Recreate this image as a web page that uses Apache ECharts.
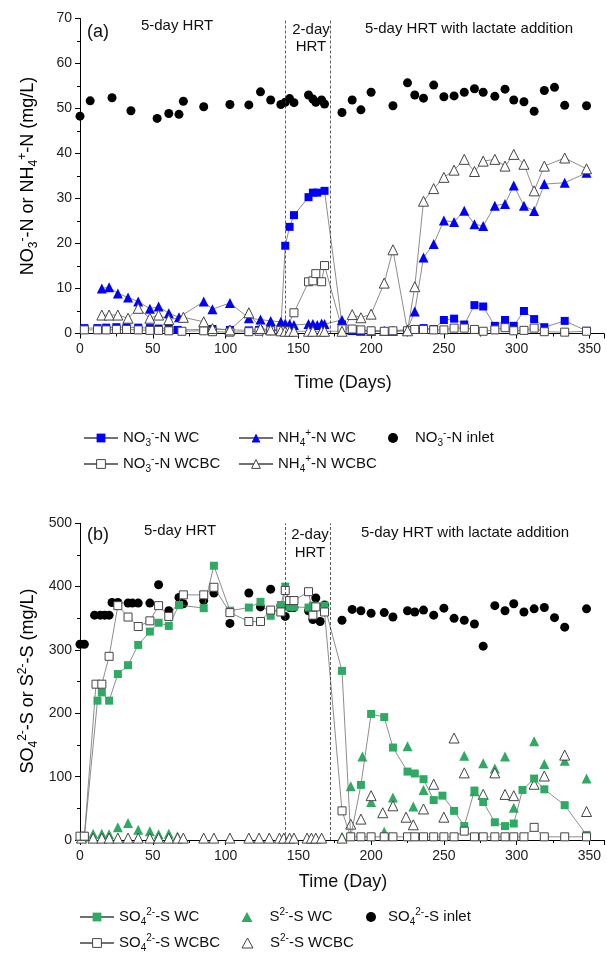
<!DOCTYPE html>
<html><head><meta charset="utf-8">
<script src="https://cdn.jsdelivr.net/npm/echarts@6/dist/echarts.min.js"></script>
<style>html,body{margin:0;padding:0;background:#fff}#c{width:607px;height:957px}</style>
</head><body><div id="c"></div>
<script>
// ---------- DATA ----------
const phaseBreaks = [141, 172];
// Panel (a)
const no3InletDays = [0,7,22,35,53,61,68,71,85,103,116,124,131,138,141,144,147,157,160,162,166,168,180,187,193,200,215,225,230,236,243,250,257,264,271,277,285,292,298,305,312,319,326,333,348];
const no3InletVals = [48.3,51.7,52.4,49.5,47.8,48.9,48.7,51.6,50.4,50.9,50.8,53.7,51.9,50.9,51.4,52.2,51.3,53.0,52.1,51.4,51.9,51.0,49.1,51.9,49.7,53.6,50.6,55.7,53.0,52.3,55.2,52.6,52.8,53.6,54.4,53.6,52.7,54.3,51.9,51.5,49.4,54.0,54.7,50.7,50.6];
const no3WcDays = [3,12,18,25,32,40,48,54,61,67,85,91,103,116,123,131,138,141,144,147,157,160,163,168,180,187,193,200,209,215,225,230,236,243,250,257,264,271,277,285,292,298,305,312,319,333,348];
const no3WcVals = [1.2,1.2,1.3,1.4,1.4,1.3,1.2,1.1,1.0,0.8,0.9,1.0,0.8,0.7,0.8,0.8,1.0,19.5,23.7,26.3,30.3,31.3,31.3,31.7,2.0,0.8,0.6,0.5,0.5,0.5,0.6,1.0,1.2,1.0,3.0,3.3,2.0,6.3,6.0,1.7,3.0,1.7,5.0,3.2,1.4,2.8,0.6];
const no3WcbcDays = [3,12,18,25,32,40,48,54,61,70,85,91,103,116,123,131,138,141,147,157,160,162,166,168,180,187,193,200,209,215,225,230,236,243,250,257,264,271,277,285,292,298,305,312,319,333,348];
const no3WcbcVals = [0.8,0.8,0.8,0.9,0.9,0.8,0.7,0.7,0.6,0.5,0.6,0.4,0.3,0.4,0.5,0.6,0.7,0.6,4.6,11.5,11.7,13.3,11.5,15.1,1.0,1.0,0.8,0.6,0.5,0.6,0.6,0.9,0.9,0.8,0.8,1.2,1.2,0.9,0.5,0.8,1.3,0.6,0.7,1.2,0.4,0.3,0.5];
const nh4WcDays = [15,20,26,33,40,48,54,61,68,85,91,103,116,124,131,138,141,144,147,157,160,163,166,168,180,187,193,200,209,215,225,230,236,243,250,257,264,271,277,285,292,298,305,312,319,333,348];
const nh4WcVals = [10.0,10.3,8.9,8.0,7.1,5.5,6.0,4.5,3.6,7.1,5.4,6.8,3.4,3.1,2.8,2.6,2.2,2.1,1.9,2.1,2.1,1.9,2.2,2.1,3.0,0.8,0.6,0.6,0.6,0.6,0.9,4.9,16.9,19.9,25.1,24.8,27.3,24.3,23.9,28.4,28.8,32.9,28.4,27.2,33.2,33.5,35.7];
const nh4WcbcDays = [15,20,26,33,40,48,54,61,71,85,91,103,116,124,131,138,141,144,147,157,160,166,168,180,187,193,200,209,215,225,230,236,243,250,257,264,271,277,285,292,298,305,312,319,333,348];
const nh4WcbcVals = [4.1,4.1,4.1,3.4,5.6,3.4,4.1,3.1,3.6,2.6,1.1,0.8,4.6,1.1,0.8,0.6,0.5,0.5,0.5,0.5,0.5,0.5,0.5,0.5,4.2,3.5,4.3,11.2,18.6,0.6,10.4,29.4,32.2,34.7,36.3,38.7,36.0,38.3,38.7,37.2,39.8,37.6,31.7,37.2,39.0,36.6];
// Panel (b)
const so4InletDays = [0,3,10,14,17,20,22,26,33,36,40,48,54,61,68,71,85,92,103,116,124,131,138,141,144,147,157,160,162,165,168,180,187,193,200,209,215,225,230,236,243,250,257,264,271,277,285,292,298,305,312,319,326,333,348];
const so4InletVals = [309,309,355,355,355,355,375,375,374,374,374,374,403,362,383,373,378,390,342,390,368,396,370,353,367,367,362,348,382,345,371,347,364,362,358,359,352,362,360,363,355,366,350,347,341,306,370,362,373,360,365,367,351,336,365];
const so4WcDays = [0,3,12,15,20,26,33,40,48,54,61,68,85,92,103,116,124,131,138,141,144,147,157,160,168,180,186,193,200,209,215,225,230,236,243,249,257,264,271,277,285,292,298,304,312,319,333,348];
const so4WcVals = [5,5,220,233,220,262,276,308,329,343,338,371,366,433,362,367,376,354,371,400,368,368,367,370,370,267,5,87,199,194,146,108,105,96,63,70,46,22,78,60,28,22,26,79,97,80,55,8];
const so4WcbcDays = [0,3,11,15,20,26,33,40,48,54,61,71,85,92,103,116,124,131,138,141,144,147,157,160,162,168,180,186,193,200,209,215,225,230,236,243,250,257,264,271,277,285,292,298,305,312,319,333,348];
const so4WcbcVals = [6,6,246,246,290,370,352,337,346,370,353,387,387,399,359,345,345,363,360,394,378,378,392,355,368,360,46,5,5,5,5,5,5,5,5,5,5,5,14,5,5,5,5,5,5,20,5,5,5];
const s2WcDays = [2,9,15,20,26,33,40,48,54,61,67,180,186,194,200,209,215,225,229,236,264,271,277,285,292,298,312,319,333,348];
const s2WcVals = [5,10,10,9,20,27,16,14,9,10,6,5,85,132,60,13,67,148,53,79,133,77,121,113,132,51,156,120,125,97];
const s2WcbcDays = [1,9,15,20,26,33,40,48,54,61,67,71,85,92,103,116,123,130,137,140,144,147,156,159,162,166,180,186,193,200,208,215,224,229,236,243,250,257,264,277,285,292,298,312,319,333,348];
const s2WcbcVals = [3,3,3,3,3,3,3,3,3,3,3,3,3,3,3,3,3,3,3,3,3,3,3,3,3,3,3,25,33,70,43,54,36,24,49,88,36,161,106,72,106,72,70,88,101,134,45];
// axis ticks
const xTickStep = 50, xMax = 360;
const yTopMax = 70, yTopStep = 10;
const yBotMax = 500, yBotStep = 100;

// ---------- HELPERS ----------
const FONT = '"Liberation Sans", Arial, sans-serif';
const zip = (d, v) => d.map((x, i) => [x, v[i]]);
function rich(fs) {
  const s = Math.round(fs * 0.65);
  return {
    t: {fontSize: fs, lineHeight: fs + 5, fontFamily: FONT, color: '#111'},
    b: {fontSize: s, lineHeight: s, verticalAlign: 'bottom', fontFamily: FONT, color: '#111'},
    p: {fontSize: s, lineHeight: s, verticalAlign: 'top', fontFamily: FONT, color: '#111'}
  };
}
const legendLabels = {
  'NO3 WC': '{t|NO}{b|3}{p|-}{t|-N WC}',
  'NH4 WC': '{t|NH}{b|4}{p|+}{t|-N WC}',
  'NO3 inlet': '{t|NO}{b|3}{p|-}{t|-N inlet}',
  'NO3 WCBC': '{t|NO}{b|3}{p|-}{t|-N WCBC}',
  'NH4 WCBC': '{t|NH}{b|4}{p|+}{t|-N WCBC}',
  'SO4 WC': '{t|SO}{b|4}{p|2-}{t|-S WC}',
  'S2 WC': '{t|S}{p|2-}{t|-S WC}',
  'SO4 inlet': '{t|SO}{b|4}{p|2-}{t|-S inlet}',
  'SO4 WCBC': '{t|SO}{b|4}{p|2-}{t|-S WCBC}',
  'S2 WCBC': '{t|S}{p|2-}{t|-S WCBC}'
};
const BLUE = '#0000ff', GREEN = '#2eaa62', LINE = '#707070';

function xAx(gi) {
  return {type: 'value', gridIndex: gi, min: 0, max: xMax, interval: xTickStep,
    axisLine: {show: true, onZero: false, lineStyle: {color: '#000', width: 1}},
    axisTick: {show: true, inside: false, length: 5, lineStyle: {color: '#000'}},
    minorTick: {show: true, splitNumber: 2, length: 3, lineStyle: {color: '#000'}},
    splitLine: {show: false},
    axisLabel: {margin: 9, fontSize: 14, color: '#222', fontFamily: FONT,
      formatter: v => (v % xTickStep === 0 ? String(v) : '')}};
}
function yAx(gi, max, step) {
  return {type: 'value', gridIndex: gi, min: 0, max: max, interval: step,
    axisLine: {show: true, lineStyle: {color: '#000', width: 1}},
    axisTick: {show: true, inside: false, length: 5, lineStyle: {color: '#000'}},
    minorTick: {show: true, splitNumber: 2, length: 3, lineStyle: {color: '#000'}},
    splitLine: {show: false},
    axisLabel: {margin: 8, fontSize: 14, color: '#222', fontFamily: FONT}};
}
const openStyle = {color: '#fff', borderColor: '#444', borderWidth: 1, opacity: 1};
function lineS(name, gi, data, symbol, size, itemStyle) {
  return {name, type: 'line', xAxisIndex: gi, yAxisIndex: gi, data, symbol, symbolSize: size,
    itemStyle, lineStyle: {color: LINE, width: 0.8}, emphasis: {disabled: true}};
}
function scatS(name, gi, data, symbol, size, itemStyle) {
  return {name, type: 'scatter', xAxisIndex: gi, yAxisIndex: gi, data, symbol, symbolSize: size,
    itemStyle, emphasis: {disabled: true}};
}
const breakLines = {silent: true, symbol: ['none', 'none'], label: {show: false},
  lineStyle: {color: '#333', type: [3, 2], width: 0.8},
  data: phaseBreaks.map(v => ({xAxis: v}))};

function leg(name, left, rowY, iw, ih, padL) {
  return {data: [name], left: left, top: rowY - 10, itemWidth: iw, itemHeight: ih, padding: 0,
    selectedMode: false, formatter: n => legendLabels[n],
    itemStyle: {borderWidth: 1},
    textStyle: {rich: rich(15), fontSize: 15, fontFamily: FONT, color: '#111', padding: [0, 0, 0, padL || 0]}};
}
function txt(x, y, s, fs) {
  return {type: 'text', x, y, silent: true,
    style: {text: s, font: fs + 'px ' + FONT, fill: '#111', align: 'center', verticalAlign: 'middle',
      textAlign: 'center', textVerticalAlign: 'middle'}};
}
function rtxt(x, y, s, fs, rot) {
  return {type: 'text', x, y, rotation: rot || 0, silent: true,
    style: {text: s, rich: rich(fs), align: 'center', verticalAlign: 'middle',
      textAlign: 'center', textVerticalAlign: 'middle'}};
}

const inletA = scatS('NO3 inlet', 0, zip(no3InletDays, no3InletVals), 'circle', 9, {color: '#000', opacity: 1});
inletA.markLine = breakLines;
const inletB = scatS('SO4 inlet', 1, zip(so4InletDays, so4InletVals), 'circle', 9, {color: '#000', opacity: 1});
inletB.markLine = breakLines;

const option = {
  animation: false,
  backgroundColor: '#fff',
  grid: [
    {left: 80, top: 18.5, width: 527, height: 315},
    {left: 80, top: 523.3, width: 527, height: 316.7}
  ],
  xAxis: [xAx(0), xAx(1)],
  yAxis: [yAx(0, yTopMax, yTopStep), yAx(1, yBotMax, yBotStep)],
  legend: [
    leg('NO3 WC', 83, 438, 34, 11),
    leg('NH4 WC', 238, 438, 34, 11),
    leg('NO3 inlet', 388, 438, 10, 10, 12),
    leg('NO3 WCBC', 83, 464, 34, 11),
    leg('NH4 WCBC', 238, 464, 34, 11),
    leg('SO4 WC', 79, 917, 34, 11),
    leg('S2 WC', 241.5, 917, 11, 10, 12),
    leg('SO4 inlet', 366, 917, 10, 10, 7),
    leg('SO4 WCBC', 79, 943, 34, 11),
    leg('S2 WCBC', 241.5, 943, 11, 10, 12)
  ],
  series: [
    lineS('NO3 WC', 0, zip(no3WcDays, no3WcVals), 'rect', 8, {color: BLUE, opacity: 1}),
    lineS('NH4 WC', 0, zip(nh4WcDays, nh4WcVals), 'triangle', 10, {color: BLUE, opacity: 1}),
    lineS('NO3 WCBC', 0, zip(no3WcbcDays, no3WcbcVals), 'rect', 8, openStyle),
    lineS('NH4 WCBC', 0, zip(nh4WcbcDays, nh4WcbcVals), 'triangle', 10, openStyle),
    inletA,
    lineS('SO4 WC', 1, zip(so4WcDays, so4WcVals), 'rect', 8, {color: GREEN, opacity: 1}),
    lineS('SO4 WCBC', 1, zip(so4WcbcDays, so4WcbcVals), 'rect', 8, openStyle),
    scatS('S2 WC', 1, zip(s2WcDays, s2WcVals), 'triangle', 10, {color: GREEN, opacity: 1}),
    scatS('S2 WCBC', 1, zip(s2WcbcDays, s2WcbcVals), 'triangle', 10, openStyle),
    inletB
  ],
  graphic: [
    txt(98, 32, '(a)', 18),
    txt(177, 26, '5-day HRT', 15),
    txt(311, 30, '2-day', 15),
    txt(311, 47, 'HRT', 15),
    txt(469, 29, '5-day HRT with lactate addition', 15),
    txt(343, 383, 'Time (Days)', 18),
    rtxt(28, 176, '{t|NO}{b|3}{p|-}{t|-N or NH}{b|4}{p|+}{t|-N (mg/L)}', 18, Math.PI / 2),
    txt(98, 535, '(b)', 18),
    txt(180, 531, '5-day HRT', 15),
    txt(310, 535, '2-day', 15),
    txt(310, 553, 'HRT', 15),
    txt(465, 533, '5-day HRT with lactate addition', 15),
    txt(343, 882, 'Time (Day)', 18),
    rtxt(28, 681, '{t|SO}{b|4}{p|2-}{t|-S or S}{p|2-}{t|-S (mg/L)}', 18, Math.PI / 2)
  ]
};
const chart = echarts.init(document.getElementById('c'), null, {renderer: 'canvas'});
chart.setOption(option);
</script>
</body></html>
